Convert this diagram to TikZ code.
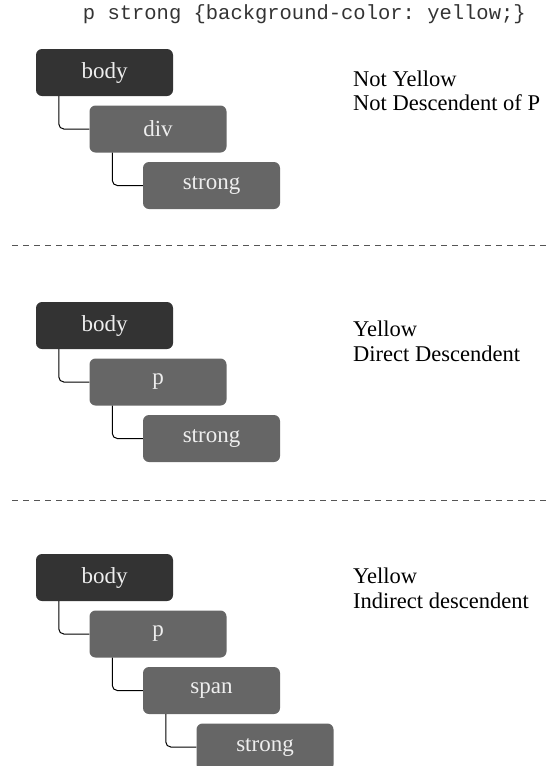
\documentclass[tikz,border=0pt]{standalone}
\usepackage{fontspec}
\setmainfont{Liberation Serif}
\setmonofont{Liberation Mono}
\definecolor{rootc}{HTML}{333333}
\definecolor{childc}{HTML}{666666}
\definecolor{labc}{HTML}{EEEEEE}
\definecolor{dashc}{HTML}{555555}
\begin{document}
\begin{tikzpicture}[x=1pt,y=-1pt,
  tbox/.style={rectangle, rounded corners=6pt, minimum width=137pt, minimum height=47pt, inner sep=0pt, text=labc, font=\fontsize{23}{27}\selectfont},
  rootbox/.style={tbox, fill=rootc},
  kidbox/.style={tbox, fill=childc},
  conn/.style={draw=black, line width=1pt, rounded corners=5pt},
  note/.style={anchor=base west, inner sep=0pt, text=black, font=\fontsize{22.5}{26}\selectfont},
  sep/.style={draw=dashc, line width=1pt, dash pattern=on 6pt off 5pt}]
\useasboundingbox (0,0) rectangle (549,766);
\clip (0,0) rectangle (549,766);

\node[anchor=base west, inner sep=0pt, text=rootc, font=\ttfamily\fontsize{20.5}{24}\selectfont] (title) at (82.7,19) {p strong \{background-color: yellow;\}};

% section 1
\node[rootbox] (b1) at (104.5,72.5) {body};
\node[kidbox] (c1a) at (158,129) {div};
\node[kidbox] (c1b) at (211.5,185.5) {strong};
\draw[conn] ([xshift=23pt]b1.south west) |- (c1a.west);
\draw[conn] ([xshift=23pt]c1a.south west) |- (c1b.west);
\node[note] (t1a) at (353,86) {Not Yellow};
\node[note] (t1b) at (353,110) {Not Descendent of P};

\coordinate (s1l) at (12,245);
\coordinate (s1r) at (549,245);
\draw[sep] (s1l) -- (s1r);

% section 2
\node[rootbox] (b2) at (104.5,325.5) {body};
\node[kidbox] (c2a) at (158,382) {p};
\node[kidbox] (c2b) at (211.5,438.5) {strong};
\draw[conn] ([xshift=23pt]b2.south west) |- (c2a.west);
\draw[conn] ([xshift=23pt]c2a.south west) |- (c2b.west);
\node[note] (t2a) at (353,336.5) {Yellow};
\node[note] (t2b) at (353,361.5) {Direct Descendent};

\coordinate (s2l) at (12,500.7);
\coordinate (s2r) at (549,500.7);
\draw[sep] (s2l) -- (s2r);

% section 3
\node[rootbox] (b3) at (104.5,577.5) {body};
\node[kidbox] (c3a) at (158,634) {p};
\node[kidbox] (c3b) at (211.5,690.5) {span};
\node[kidbox] (c3c) at (265,747) {strong};
\draw[conn] ([xshift=23pt]b3.south west) |- (c3a.west);
\draw[conn] ([xshift=23pt]c3a.south west) |- (c3b.west);
\draw[conn] ([xshift=23pt]c3b.south west) |- (c3c.west);
\node[note] (t3a) at (353,583) {Yellow};
\node[note] (t3b) at (353,608) {Indirect descendent};
\end{tikzpicture}
\end{document}
